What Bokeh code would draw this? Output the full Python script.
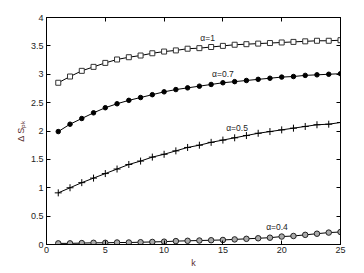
from bokeh.plotting import figure
from bokeh.models import LinearAxis, Label, FixedTicker, Range1d
from bokeh.embed import file_html
from bokeh.resources import INLINE

k = list(range(1, 26))
a1 = [2.85, 2.96, 3.06, 3.13, 3.20, 3.26, 3.30, 3.33, 3.37, 3.40, 3.42, 3.45, 3.46,
      3.48, 3.50, 3.52, 3.53, 3.54, 3.55, 3.56, 3.57, 3.58, 3.59, 3.59, 3.60]
a07 = [1.99, 2.12, 2.22, 2.32, 2.41, 2.48, 2.54, 2.59, 2.64, 2.69, 2.73, 2.76, 2.79,
       2.82, 2.85, 2.87, 2.89, 2.91, 2.93, 2.95, 2.96, 2.98, 2.99, 3.00, 3.01]
a05 = [0.91, 1.00, 1.09, 1.17, 1.25, 1.33, 1.41, 1.47, 1.54, 1.59, 1.65, 1.71, 1.75,
       1.80, 1.84, 1.88, 1.92, 1.96, 1.99, 2.02, 2.05, 2.08, 2.11, 2.12, 2.15]
a04 = [0.02, 0.02, 0.025, 0.03, 0.03, 0.035, 0.035, 0.04, 0.045, 0.05, 0.06, 0.065, 0.07,
       0.075, 0.08, 0.09, 0.10, 0.11, 0.12, 0.14, 0.15, 0.17, 0.19, 0.21, 0.22]
xticks = [0, 5, 10, 15, 20, 25]
yticks = [0, 0.5, 1, 1.5, 2, 2.5, 3, 3.5, 4]
annot = [("α=1", 13.7, 3.63), ("α=0.7", 15.0, 3.00), ("α=0.5", 16.2, 2.06), ("α=0.4", 19.6, 0.30)]

FONT = "Liberation Sans"
p = figure(width=354, height=265, output_backend="svg", toolbar_location=None,
           x_range=Range1d(0, 25), y_range=Range1d(0, 4),
           min_border_left=46, min_border_right=14, min_border_top=17, min_border_bottom=0)
p.frame_width = 294
p.frame_height = 227
p.outline_line_color = "black"
p.outline_line_width = 1
p.xgrid.visible = False
p.ygrid.visible = False

for ax, ticks in ((p.xaxis[0], xticks), (p.yaxis[0], yticks)):
    ax.ticker = FixedTicker(ticks=ticks)
    ax.major_tick_in = 4
    ax.major_tick_out = 0
    ax.minor_tick_line_color = None
    ax.major_label_text_font = FONT
    ax.major_label_text_font_size = "9px"
    ax.major_label_text_color = "#222222"
    ax.axis_label_text_font = FONT
    ax.axis_label_text_font_size = "9px"
    ax.axis_label_text_font_style = "normal"
    ax.axis_label_text_color = "#5a3030"
    ax.axis_line_color = "black"
    ax.major_label_standoff = 3
    ax.axis_label_standoff = 2

p.xaxis[0].axis_label = "k"
p.yaxis[0].axis_label = "Δ Sₚₖ"
p.yaxis[0].major_label_overrides = {0: "0", 1: "1", 2: "2", 3: "3", 4: "4"}
p.xaxis[0].major_label_standoff = 2

top = LinearAxis(ticker=FixedTicker(ticks=xticks), major_label_text_color=None,
                 major_tick_in=4, major_tick_out=0, minor_tick_line_color=None,
                 major_label_standoff=0)
right = LinearAxis(ticker=FixedTicker(ticks=yticks), major_label_text_color=None,
                   major_tick_in=4, major_tick_out=0, minor_tick_line_color=None,
                   major_label_standoff=0)
p.add_layout(top, "above")
p.add_layout(right, "right")

lc = "black"
p.line(k, a1, line_color=lc, line_width=1)
p.scatter(k, a1, marker="square", size=5, fill_color="white", line_color="#333333", line_width=1)
p.line(k, a07, line_color=lc, line_width=1)
p.scatter(k, a07, marker="circle", size=4.5, fill_color="black", line_color="black")
p.line(k, a05, line_color=lc, line_width=1)
p.scatter(k, a05, marker="cross", size=7, line_color="black", line_width=1)
p.line(k, a04, line_color=lc, line_width=1)
p.scatter(k, a04, marker="circle", size=5.5, fill_color="#aaaaaa", line_color="#222222", line_width=1)

for txt, x, y in annot:
    p.add_layout(Label(x=x, y=y, text=txt, text_font=FONT, text_font_size="8.5px",
                       text_color="#222222", text_align="center", text_baseline="middle"))

open("out.html", "w").write(file_html(p, INLINE))
